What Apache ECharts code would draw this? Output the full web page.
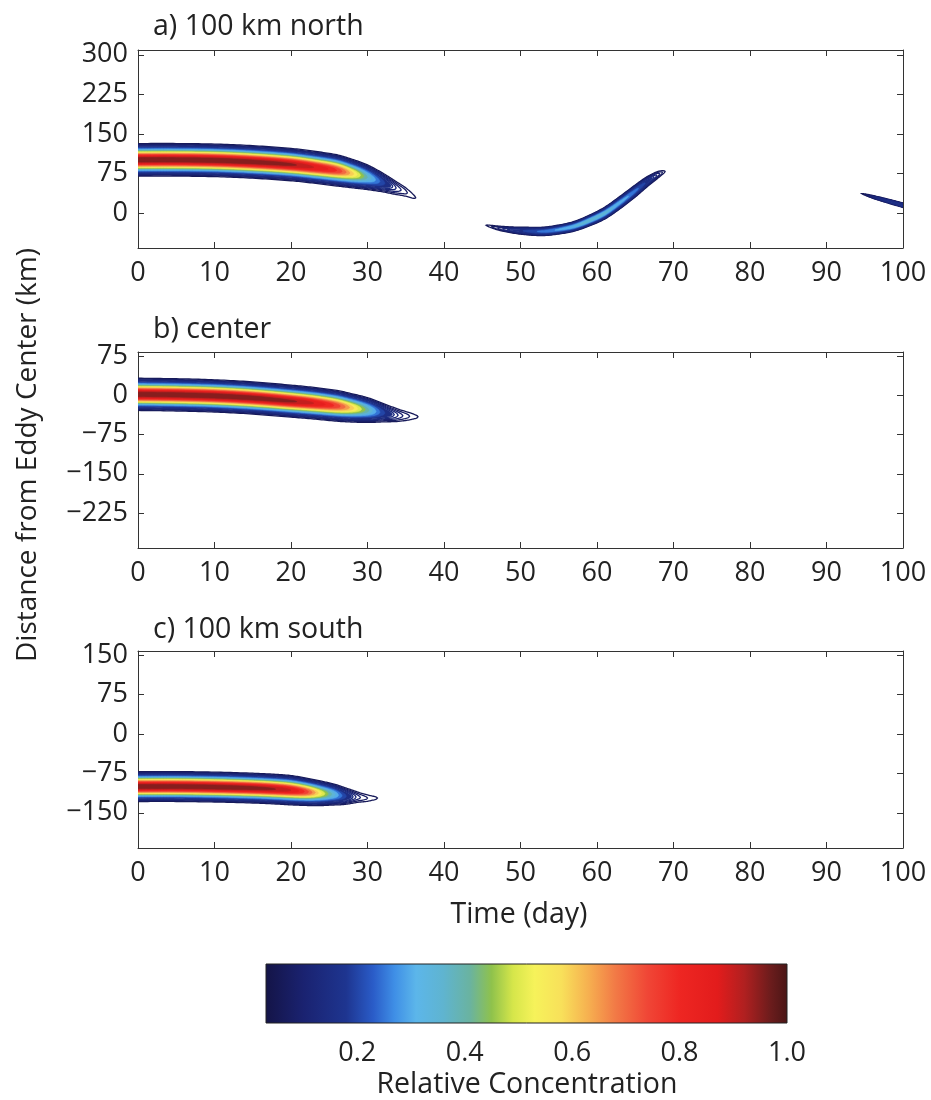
<!DOCTYPE html>
<html><head><meta charset="utf-8">
<script src="https://cdn.jsdelivr.net/npm/echarts@6/dist/echarts.min.js"></script>
<style>html,body{margin:0;padding:0;background:#fff}#c{width:931px;height:1100px}</style>
</head><body><div id="c"></div>
<script>
// ---------------- data ----------------
// time axis ticks (day)
const timeMin = 0, timeMax = 100, timeStep = 10;
// y tick labels (km) and visible ranges per panel
const yTicksA = [0, 75, 150, 225, 300];
const yTicksB = [-225, -150, -75, 0, 75];
const yTicksC = [-150, -75, 0, 75, 150];
const yRangeA = [-66, 309];
const yRangeB = [-292, 83];
const yRangeC = [-217, 158];
const panelTitles = ['a) 100 km north', 'b) center', 'c) 100 km south'];

// Plume segments: time (day), centre (km), cross-width sigma (km), peak relative concentration
// panel a, main plume
const aMainT = [0, 5, 10, 15, 20, 23, 26, 28, 30, 32, 33.5, 35, 36.3];
const aMainC = [101, 101, 100, 97, 92, 87, 81, 75, 68, 58, 49, 40, 29];
const aMainS = [13, 13, 13, 13, 13, 13, 13, 12.5, 12, 11, 10.5, 9.5, 8];
const aMainA = [1, 1, 1, 0.99, 0.96, 0.9, 0.8, 0.62, 0.4, 0.22, 0.13, 0.085, 0.06];
// panel a, arc (days 45-69)
const aArcT = [45.5, 47, 49, 51, 53, 55, 57, 59, 61, 63, 65, 66.5, 68, 68.9];
const aArcC = [-23, -28, -32, -34, -34.5, -31, -25, -14, 0, 20, 42, 59, 73, 79];
const aArcS = [2.8, 3.6, 4.1, 4.5, 4.6, 4.7, 4.9, 5.3, 5.9, 6.4, 6.6, 6.4, 5.6, 4];
const aArcA = [0.06, 0.1, 0.16, 0.22, 0.27, 0.31, 0.35, 0.38, 0.37, 0.33, 0.27, 0.19, 0.11, 0.06];
// panel a, re-entering filament (days 95-100)
const aEndT = [94.6, 96, 98, 100];
const aEndC = [37, 31, 23, 15];
const aEndS = [1.5, 2.2, 2.6, 2.8];
const aEndA = [0.06, 0.12, 0.17, 0.19];
// panel b
const bMainT = [0, 5, 10, 15, 20, 23, 26, 28, 30, 32, 34, 35.5, 36.6];
const bMainC = [2, 1, -1, -5, -11, -15, -20, -24, -28, -33, -38, -40, -41];
const bMainS = [13, 13, 13, 13, 13, 13, 13, 12.5, 12, 11, 10, 9, 7.5];
const bMainA = [1, 1, 1, 0.99, 0.96, 0.9, 0.78, 0.62, 0.42, 0.22, 0.12, 0.08, 0.06];
// panel c
const cMainT = [0, 5, 10, 15, 18, 20, 22, 24, 25.5, 27, 28.5, 30, 31.3];
const cMainC = [-100, -100, -101, -103, -105, -107, -110, -113, -115, -118, -120, -122, -122];
const cMainS = [12, 12, 12, 12, 12, 12, 11.5, 11, 10.5, 10, 9, 8, 7];
const cMainA = [1, 1, 1, 0.98, 0.95, 0.9, 0.78, 0.55, 0.38, 0.22, 0.12, 0.08, 0.06];

// contour levels
const lineLevels = [0.06, 0.08, 0.1, 0.12, 0.14];
const fillLevels = [0.15, 0.2, 0.25, 0.3, 0.35, 0.4, 0.45, 0.5, 0.55, 0.6, 0.65, 0.7, 0.75, 0.8, 0.85, 0.9, 0.95];
// colour bar
const cbRange = [0.03, 1.0];
const cbTicks = [0.2, 0.4, 0.6, 0.8, 1.0];

// ---------------- styling ----------------
const FONT = '"Open Sans", "Liberation Sans", sans-serif';
const FS = 27;
const TXT = '#222';
const AX = '#333';
const cmapStops = [
  [0.03, '#141447'], [0.1, '#1a2270'], [0.18, '#1e3590'], [0.23, '#2a5cc8'], [0.27, '#3f8fe6'],
  [0.31, '#5cb6ea'], [0.36, '#5fb4d0'], [0.41, '#6ab3a0'], [0.45, '#8fc24c'], [0.49, '#d6e64a'],
  [0.53, '#f6f25a'], [0.58, '#f8e05a'], [0.63, '#f6b050'], [0.68, '#f27a46'], [0.74, '#f04636'],
  [0.8, '#ee2622'], [0.87, '#e21c1c'], [0.92, '#b02020'], [0.97, '#6a1c1c'], [1.0, '#4a1616']
];
function hex2rgb(h) { return [parseInt(h.substr(1,2),16), parseInt(h.substr(3,2),16), parseInt(h.substr(5,2),16)]; }
function colorAt(v) {
  if (v <= cmapStops[0][0]) return cmapStops[0][1];
  for (let i = 1; i < cmapStops.length; i++) {
    if (v <= cmapStops[i][0]) {
      const a = cmapStops[i-1], b = cmapStops[i];
      const f = (v - a[0]) / (b[0] - a[0]);
      const ca = hex2rgb(a[1]), cb = hex2rgb(b[1]);
      return 'rgb(' + ca.map((x, k) => Math.round(x + f * (cb[k] - x))).join(',') + ')';
    }
  }
  return cmapStops[cmapStops.length-1][1];
}

// ---------------- geometry helpers (rendering only) ----------------
function makePlume(T, C, S, A) { return { T, C, S, A, fine: refine(T, C, S, A) }; }
function tangents(T, Y) {
  const n = T.length, m = [];
  for (let i = 0; i < n; i++) {
    if (i === 0) m.push((Y[1]-Y[0])/(T[1]-T[0]));
    else if (i === n-1) m.push((Y[n-1]-Y[n-2])/(T[n-1]-T[n-2]));
    else m.push((Y[i+1]-Y[i-1])/(T[i+1]-T[i-1]));
  }
  return m;
}
function herm(y0, y1, m0, m1, h, u) {
  const u2 = u*u, u3 = u2*u;
  return (2*u3-3*u2+1)*y0 + (u3-2*u2+u)*h*m0 + (-2*u3+3*u2)*y1 + (u3-u2)*h*m1;
}
function refine(T, C, S, A) {
  const mc = tangents(T, C), ms = tangents(T, S), ma = tangents(T, A);
  const out = [], SUB = 12;
  for (let i = 0; i < T.length - 1; i++) {
    const h = T[i+1] - T[i];
    for (let k = 0; k < SUB; k++) {
      const u = k / SUB;
      out.push({
        t: T[i] + u*h,
        c: herm(C[i], C[i+1], mc[i], mc[i+1], h, u),
        s: Math.max(0.5, herm(S[i], S[i+1], ms[i], ms[i+1], h, u)),
        a: Math.max(0, Math.min(1, herm(A[i], A[i+1], ma[i], ma[i+1], h, u)))
      });
    }
  }
  const n = T.length - 1;
  out.push({ t: T[n], c: C[n], s: S[n], a: A[n] });
  return out;
}
function contourRuns(fine, L) {
  const runs = []; let cur = null;
  function cross(g, f) {
    const r = (L - g.a) / (f.a - g.a);
    return { t: g.t + r*(f.t-g.t), c: g.c + r*(f.c-g.c), h: 0 };
  }
  for (let i = 0; i < fine.length; i++) {
    const f = fine[i];
    if (f.a >= L) {
      if (!cur) { cur = []; if (i > 0) cur.push(cross(fine[i-1], f)); }
      cur.push({ t: f.t, c: f.c, h: f.a > L ? f.s*Math.sqrt(2*Math.log(f.a/L)) : 0 });
    } else if (cur) {
      cur.push(cross(fine[i-1], f)); runs.push(cur); cur = null;
    }
  }
  if (cur) runs.push(cur);
  return runs.filter(r => r.length > 1).map(r =>
    r.map(q => [q.t, q.c + q.h]).concat(r.slice().reverse().map(q => [q.t, q.c - q.h])));
}

const panels = [
  { title: panelTitles[0], range: yRangeA, ticks: yTicksA, top: 50, height: 198, titleY: 27,
    plumes: [makePlume(aMainT, aMainC, aMainS, aMainA), makePlume(aArcT, aArcC, aArcS, aArcA), makePlume(aEndT, aEndC, aEndS, aEndA)] },
  { title: panelTitles[1], range: yRangeB, ticks: yTicksB, top: 352, height: 196, titleY: 330,
    plumes: [makePlume(bMainT, bMainC, bMainS, bMainA)] },
  { title: panelTitles[2], range: yRangeC, ticks: yTicksC, top: 651, height: 197, titleY: 630,
    plumes: [makePlume(cMainT, cMainC, cMainS, cMainA)] }
];

const minus = v => String(v).replace('-', '\u2212');
const grid = [], xAxis = [], yAxis = [], series = [], graphic = [];
panels.forEach((p, i) => {
  grid.push({ left: 138, top: p.top, width: 765, height: p.height, outerBoundsMode: 'none', containLabel: false });
  ['bottom', 'top'].forEach(pos => xAxis.push({
    gridIndex: i, type: 'value', min: timeMin, max: timeMax, interval: timeStep, position: pos,
    axisLine: { show: true, onZero: false, lineStyle: { color: AX, width: 1 } },
    axisTick: { show: true, inside: true, length: 6, lineStyle: { color: AX } },
    axisLabel: { show: pos === 'bottom', fontSize: FS, fontFamily: FONT, color: TXT, margin: 12 },
    splitLine: { show: false }
  }));
  ['left', 'right'].forEach(pos => yAxis.push({
    gridIndex: i, type: 'value', min: p.range[0], max: p.range[1], position: pos,
    axisLine: { show: true, onZero: false, lineStyle: { color: AX, width: 1 } },
    axisTick: { show: true, inside: true, length: 6, lineStyle: { color: AX }, customValues: p.ticks },
    axisLabel: { show: pos === 'left', fontSize: FS, fontFamily: FONT, color: TXT, margin: 10,
                 customValues: p.ticks, formatter: minus },
    splitLine: { show: false }
  }));
  const plumes = p.plumes;
  series.push({
    type: 'custom', xAxisIndex: 2*i, yAxisIndex: 2*i, clip: true,
    data: plumes.map((q, j) => [q.T[0], q.C[0], j]),
    encode: { x: 0, y: 1 },
    renderItem: function (params, api) {
      const q = plumes[api.value(2)];
      const children = [];
      lineLevels.forEach(L => contourRuns(q.fine, L).forEach(poly => children.push({
        type: 'polygon', shape: { points: poly.map(pt => api.coord(pt)) },
        style: { fill: 'none', stroke: colorAt(L), lineWidth: 1.3 }
      })));
      fillLevels.forEach(L => contourRuns(q.fine, L).forEach(poly => children.push({
        type: 'polygon', shape: { points: poly.map(pt => api.coord(pt)) },
        style: { fill: colorAt(L), stroke: colorAt(L), lineWidth: 0.6 }
      })));
      return { type: 'group', children };
    }
  });
  graphic.push({ type: 'text', x: 153, y: p.titleY,
    style: { text: p.title, font: '28.5px ' + FONT, fill: TXT, align: 'left', verticalAlign: 'middle', textAlign: 'left', textVerticalAlign: 'middle' } });
});

// colour bar
grid.push({ left: 266, top: 964, width: 521, height: 59, outerBoundsMode: 'none', containLabel: false });
xAxis.push({ gridIndex: 3, type: 'value', min: cbRange[0], max: cbRange[1],
  axisLine: { show: false }, axisTick: { show: false }, splitLine: { show: false },
  axisLabel: { customValues: cbTicks, formatter: v => v.toFixed(1), fontSize: FS, fontFamily: FONT, color: TXT, margin: 17 } });
yAxis.push({ gridIndex: 3, type: 'value', min: 0, max: 1, show: false });
series.push({
  type: 'custom', xAxisIndex: 6, yAxisIndex: 6,
  data: [[cbRange[0], cbRange[1]]],
  renderItem: function (params, api) {
    const lo = api.value(0), hi = api.value(1);
    const p0 = api.coord([lo, 0]), p1 = api.coord([hi, 1]);
    const stops = cmapStops.map(s => ({ offset: (s[0]-lo)/(hi-lo), color: s[1] }));
    return { type: 'rect', shape: { x: p0[0], y: p1[1], width: p1[0]-p0[0], height: p0[1]-p1[1] },
      style: { fill: new echarts.graphic.LinearGradient(0, 0, 1, 0, stops), stroke: '#222', lineWidth: 1 } };
  }
});

graphic.push({ type: 'text', x: 28, y: 455, rotation: Math.PI/2,
  style: { text: 'Distance from Eddy Center (km)', font: '28px ' + FONT, fill: TXT, align: 'center', verticalAlign: 'middle', textAlign: 'center', textVerticalAlign: 'middle' } });
graphic.push({ type: 'text', x: 519, y: 915,
  style: { text: 'Time (day)', font: '28.5px ' + FONT, fill: TXT, align: 'center', verticalAlign: 'middle', textAlign: 'center', textVerticalAlign: 'middle' } });
graphic.push({ type: 'text', x: 527, y: 1085,
  style: { text: 'Relative Concentration', font: '28.5px ' + FONT, fill: TXT, align: 'center', verticalAlign: 'middle', textAlign: 'center', textVerticalAlign: 'middle' } });

const chart = echarts.init(document.getElementById('c'), null, { renderer: 'canvas' });
chart.setOption({ animation: false, backgroundColor: '#fff', grid, xAxis, yAxis, series, graphic });
</script></body></html>
